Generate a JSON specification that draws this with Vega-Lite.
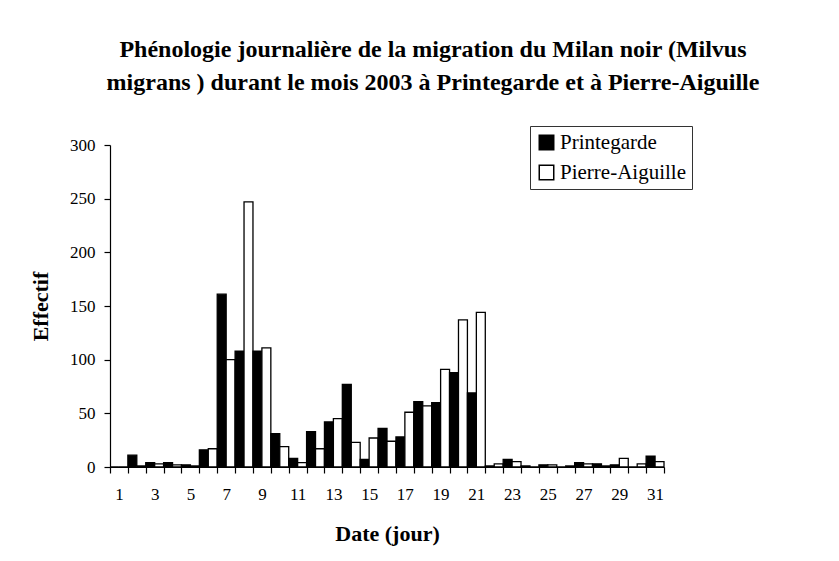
{
  "$schema": "https://vega.github.io/schema/vega-lite/v6.json",
  "autosize": "none",
  "width": 554,
  "height": 322,
  "padding": {"left": 110, "top": 145, "right": 175, "bottom": 94},
  "background": "white",
  "title": {
    "text": ["Phénologie journalière de la migration du Milan noir (Milvus", "migrans ) durant le mois 2003 à Printegarde et à Pierre-Aiguille"],
    "font": "Liberation Serif",
    "fontSize": 24,
    "fontWeight": "bold",
    "color": "black",
    "lineHeight": 33,
    "anchor": "middle",
    "frame": "group",
    "dx": 46,
    "offset": 31
  },
  "data": {
    "values": [
      {"day": 1, "site": "Printegarde", "value": 0}, {"day": 1, "site": "Pierre-Aiguille", "value": 0},
      {"day": 2, "site": "Printegarde", "value": 11}, {"day": 2, "site": "Pierre-Aiguille", "value": 1},
      {"day": 3, "site": "Printegarde", "value": 4}, {"day": 3, "site": "Pierre-Aiguille", "value": 3},
      {"day": 4, "site": "Printegarde", "value": 4}, {"day": 4, "site": "Pierre-Aiguille", "value": 2},
      {"day": 5, "site": "Printegarde", "value": 2}, {"day": 5, "site": "Pierre-Aiguille", "value": 1},
      {"day": 6, "site": "Printegarde", "value": 16}, {"day": 6, "site": "Pierre-Aiguille", "value": 17},
      {"day": 7, "site": "Printegarde", "value": 161}, {"day": 7, "site": "Pierre-Aiguille", "value": 100},
      {"day": 8, "site": "Printegarde", "value": 108}, {"day": 8, "site": "Pierre-Aiguille", "value": 247},
      {"day": 9, "site": "Printegarde", "value": 108}, {"day": 9, "site": "Pierre-Aiguille", "value": 111},
      {"day": 10, "site": "Printegarde", "value": 31}, {"day": 10, "site": "Pierre-Aiguille", "value": 19},
      {"day": 11, "site": "Printegarde", "value": 8}, {"day": 11, "site": "Pierre-Aiguille", "value": 4},
      {"day": 12, "site": "Printegarde", "value": 33}, {"day": 12, "site": "Pierre-Aiguille", "value": 17},
      {"day": 13, "site": "Printegarde", "value": 42}, {"day": 13, "site": "Pierre-Aiguille", "value": 45},
      {"day": 14, "site": "Printegarde", "value": 77}, {"day": 14, "site": "Pierre-Aiguille", "value": 23},
      {"day": 15, "site": "Printegarde", "value": 7}, {"day": 15, "site": "Pierre-Aiguille", "value": 27},
      {"day": 16, "site": "Printegarde", "value": 36}, {"day": 16, "site": "Pierre-Aiguille", "value": 24},
      {"day": 17, "site": "Printegarde", "value": 28}, {"day": 17, "site": "Pierre-Aiguille", "value": 51},
      {"day": 18, "site": "Printegarde", "value": 61}, {"day": 18, "site": "Pierre-Aiguille", "value": 57},
      {"day": 19, "site": "Printegarde", "value": 60}, {"day": 19, "site": "Pierre-Aiguille", "value": 91},
      {"day": 20, "site": "Printegarde", "value": 88}, {"day": 20, "site": "Pierre-Aiguille", "value": 137},
      {"day": 21, "site": "Printegarde", "value": 69}, {"day": 21, "site": "Pierre-Aiguille", "value": 144},
      {"day": 22, "site": "Printegarde", "value": 1}, {"day": 22, "site": "Pierre-Aiguille", "value": 3},
      {"day": 23, "site": "Printegarde", "value": 7}, {"day": 23, "site": "Pierre-Aiguille", "value": 5},
      {"day": 24, "site": "Printegarde", "value": 1}, {"day": 24, "site": "Pierre-Aiguille", "value": 0},
      {"day": 25, "site": "Printegarde", "value": 2}, {"day": 25, "site": "Pierre-Aiguille", "value": 2},
      {"day": 26, "site": "Printegarde", "value": 0}, {"day": 26, "site": "Pierre-Aiguille", "value": 1},
      {"day": 27, "site": "Printegarde", "value": 4}, {"day": 27, "site": "Pierre-Aiguille", "value": 3},
      {"day": 28, "site": "Printegarde", "value": 3}, {"day": 28, "site": "Pierre-Aiguille", "value": 1},
      {"day": 29, "site": "Printegarde", "value": 2}, {"day": 29, "site": "Pierre-Aiguille", "value": 8},
      {"day": 30, "site": "Printegarde", "value": 0}, {"day": 30, "site": "Pierre-Aiguille", "value": 3},
      {"day": 31, "site": "Printegarde", "value": 10}, {"day": 31, "site": "Pierre-Aiguille", "value": 5}
    ]
  },
  "mark": {"type": "bar", "stroke": "black", "strokeWidth": 1.3},
  "encoding": {
    "x": {
      "field": "day",
      "type": "ordinal",
      "scale": {"paddingInner": 0, "paddingOuter": 0},
      "axis": {
        "title": "Date (jour)",
        "labelAngle": 0,
        "tickBand": "extent",
        "labelExpr": "datum.value % 2 == 1 ? datum.label : ''",
        "labelPadding": 13,
        "titlePadding": 21
      }
    },
    "xOffset": {"field": "site", "type": "nominal", "sort": ["Printegarde", "Pierre-Aiguille"], "scale": {"paddingInner": 0, "paddingOuter": 0}},
    "y": {
      "field": "value",
      "type": "quantitative",
      "scale": {"domain": [0, 300]},
      "axis": {"title": "Effectif", "values": [0, 50, 100, 150, 200, 250, 300], "labelPadding": 9, "titlePadding": 17}
    },
    "color": {
      "field": "site",
      "type": "nominal",
      "sort": ["Printegarde", "Pierre-Aiguille"],
      "scale": {"domain": ["Printegarde", "Pierre-Aiguille"], "range": ["black", "white"]},
      "legend": {
        "title": null,
        "orient": "none",
        "legendX": 420,
        "legendY": -19,
        "symbolType": "square",
        "symbolSize": 210,
        "symbolStrokeColor": "black",
        "symbolStrokeWidth": 1.5,
        "symbolOpacity": 1,
        "labelFontSize": 21,
        "labelFont": "Liberation Serif",
        "labelColor": "black",
        "labelOffset": 3,
        "rowPadding": 8,
        "padding": 6,
        "strokeColor": "#333",
        "fillColor": "white",
        "labelLimit": 300
      }
    }
  },
  "config": {
    "view": {"stroke": null},
    "axis": {
      "labelFont": "Liberation Serif",
      "labelFontSize": 17,
      "labelColor": "black",
      "titleFont": "Liberation Serif",
      "titleFontSize": 22,
      "titleFontWeight": "bold",
      "titleColor": "black",
      "domainColor": "black",
      "domainWidth": 1.2,
      "tickColor": "black",
      "tickWidth": 1.2,
      "tickSize": 6,
      "grid": false
    }
  }
}
